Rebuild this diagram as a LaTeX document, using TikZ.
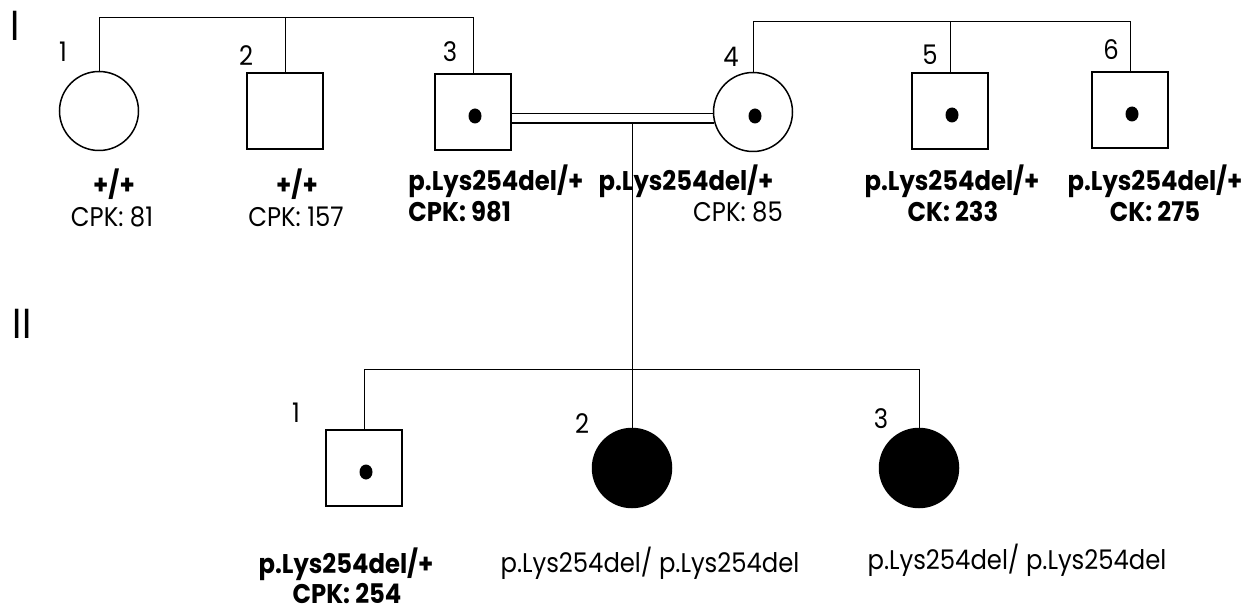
\documentclass[tikz,border=0pt]{standalone}
\usepackage{fontspec}
\setmainfont{Poppins}[FakeStretch=0.9]
\usetikzlibrary{positioning}

\begin{document}
\begin{tikzpicture}[
    x=1pt, y=-1pt,
    line width=0.9pt,
    male/.style={draw, rectangle, minimum size=76pt, inner sep=0pt, line width=1.5pt},
    female/.style={draw, circle, minimum size=79pt, inner sep=0pt, line width=1.5pt},
    carrier/.style={path picture={\fill ([xshift=2pt,yshift=-4pt]path picture bounding box.center) ellipse (6.5pt and 7.5pt);}},
    affected/.style={fill=black},
    gen/.style={font=\fontsize{42}{42}\selectfont, inner sep=0pt},
    num/.style={font=\fontsize{27}{27}\selectfont, inner sep=0pt},
    geno/.style={font=\fontsize{27}{27}\selectfont, inner sep=0pt, anchor=base},
    genob/.style={geno, font=\bfseries\fontsize{27}{27}\selectfont}
]
\useasboundingbox (0,0) rectangle (1250,612);

% generation labels
\node[gen] (genI) at (15,26) {I};
\node[gen] (genII) at (22,324) {II};

% generation I
\node[female] (i1) at (99,111) {};
\node[male] (i2) at (285,111) {};
\node[male, carrier] (i3) at (473,112) {};
\node[female, carrier] (i4) at (753,112) {};
\node[male, carrier] (i5) at (950,111) {};
\node[male, carrier] (i6) at (1130,110) {};

\node[num] (n1) at (63,52) {1};
\node[num] (n2) at (246,56) {2};
\node[num] (n3) at (450,52) {3};
\node[num] (n4) at (731,57) {4};
\node[num] (n5) at (930,55) {5};
\node[num] (n6) at (1111,50) {6};

\node[genob] (g1a) at (114,195) {+/+};
\node[geno] (g1b) at (112,227) {CPK: 81};
\node[genob] (g2a) at (297,195) {+/+};
\node[geno] (g2b) at (296,227) {CPK: 157};
\node[genob, anchor=base west] (g3a) at (408,191) {p.Lys254del/+};
\node[genob, anchor=base west] (g3b) at (408,222) {CPK: 981};
\node[genob] (g4a) at (686,191) {p.Lys254del/+};
\node[geno] (g4b) at (738,222) {CPK: 85};
\node[genob] (g5a) at (952,191) {p.Lys254del/+};
\node[genob] (g5b) at (953,222) {CK: 233};
\node[genob] (g6a) at (1155,191) {p.Lys254del/+};
\node[genob] (g6b) at (1155,222) {CK: 275};

% generation II
\node[male, carrier] (ii1) at (364,468) {};
\node[female, affected] (ii2) at (632,468) {};
\node[female, affected] (ii3) at (919,468) {};

\node[num] (m1) at (296,413) {1};
\node[num] (m2) at (582,424) {2};
\node[num] (m3) at (881,419) {3};

\node[genob] (h1a) at (346,573) {p.Lys254del/+};
\node[genob] (h1b) at (347,603) {CPK: 254};
\node[geno] (h2) at (650,572) {p.Lys254del/ p.Lys254del};
\node[geno] (h3) at (1017,569) {p.Lys254del/ p.Lys254del};

% sibships of generation I
\draw (i1.north) |- (i3.north |- 0,17) -- (i3.north);
\draw (i2.north) -- (i2.north |- 0,17);
\draw (i4.north) |- (i6.north |- 0,21) -- (i6.north);
\draw (i5.north) -- (i5.north |- 0,21);

% consanguineous mating
\draw ([yshift=-1pt]i3.east) -- ([yshift=-1pt]i3.east -| i4.west);
\draw[line width=1.3pt] ([yshift=-11pt]i3.east) -- ([yshift=-11pt,xshift=1.5pt]i3.east -| i4.west);
\draw (ii2.north |- 0,123) -- (ii2.north);

% sibship of generation II
\draw (ii1.north) |- (ii3.north |- 0,369) -- (ii3.north);

\end{tikzpicture}
\end{document}
